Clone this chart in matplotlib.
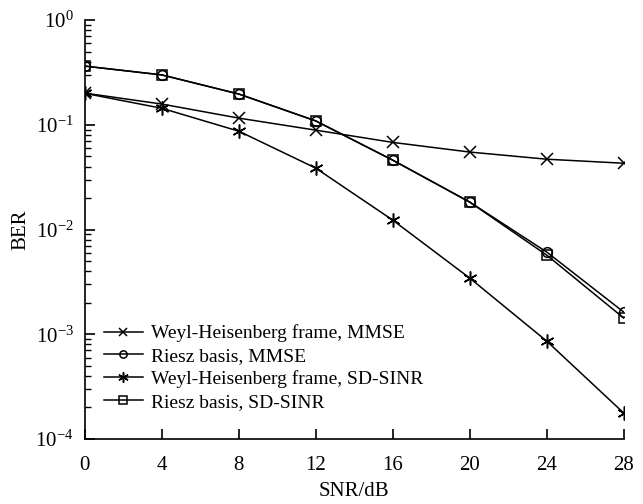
import matplotlib
matplotlib.use("Agg")
import matplotlib.pyplot as plt
from matplotlib.ticker import LogLocator, NullFormatter

plt.rcParams['font.family'] = ['Liberation Serif', 'DejaVu Serif']
plt.rcParams['mathtext.fontset'] = 'stix'

snr = [0, 4, 8, 12, 16, 20, 24, 28]
wh_mmse = [0.201, 0.158, 0.116, 0.089, 0.068, 0.055, 0.047, 0.043]
riesz_mmse = [0.364, 0.30, 0.197, 0.109, 0.046, 0.0183, 6.1e-3, 1.63e-3]
wh_sdsinr = [0.2, 0.144, 0.087, 0.0386, 0.0123, 3.44e-3, 8.6e-4, 1.77e-4]
riesz_sdsinr = [0.364, 0.30, 0.197, 0.109, 0.046, 0.0183, 5.7e-3, 1.43e-3]

labels = ["Weyl-Heisenberg frame, MMSE", "Riesz basis, MMSE",
          "Weyl-Heisenberg frame, SD-SINR", "Riesz basis, SD-SINR"]

fig = plt.figure(figsize=(6.43, 5.04), dpi=100)
ax = fig.add_axes([0.132, 0.129, 0.838, 0.831])

kw = dict(color='black', lw=1.1, mfc='none', mec='black', mew=1.1)
ax.plot(snr, wh_mmse, marker='x', ms=8, label=labels[0], **kw)
ax.plot(snr, riesz_mmse, marker='o', ms=7, label=labels[1], **kw)
ax.plot(snr, wh_sdsinr, marker=(6, 2, 0), ms=10, label=labels[2], **kw)
ax.plot(snr, riesz_sdsinr, marker='s', ms=7, label=labels[3], **kw)

ax.set_yscale('log')
ax.set_ylim(1e-4, 1)
ax.set_xlim(0, 28)
ax.set_xticks(snr)
ax.yaxis.set_major_locator(LogLocator(base=10, numticks=10))
ax.yaxis.set_minor_locator(LogLocator(base=10, subs=range(2, 10), numticks=10))
ax.yaxis.set_minor_formatter(NullFormatter())

for s in ['top', 'right']:
    ax.spines[s].set_visible(False)
for s in ['left', 'bottom']:
    ax.spines[s].set_linewidth(1.2)

ax.tick_params(which='major', direction='in', length=7, width=1.2, labelsize=15)
ax.tick_params(axis='x', which='major', pad=12)
ax.tick_params(axis='y', which='major', pad=8)
ax.tick_params(which='minor', direction='in', length=4, width=1.0)

ax.set_xlabel('SNR/dB', fontsize=15, labelpad=5)
ax.set_ylabel('BER', fontsize=15, labelpad=4)

ax.legend(loc='lower left', bbox_to_anchor=(0.01, 0.035), frameon=False, fontsize=14,
          handlelength=2.0, handletextpad=0.4, labelspacing=0.26, borderaxespad=0.3,
          markerscale=0.75)

fig.savefig('out.png', dpi=100)
